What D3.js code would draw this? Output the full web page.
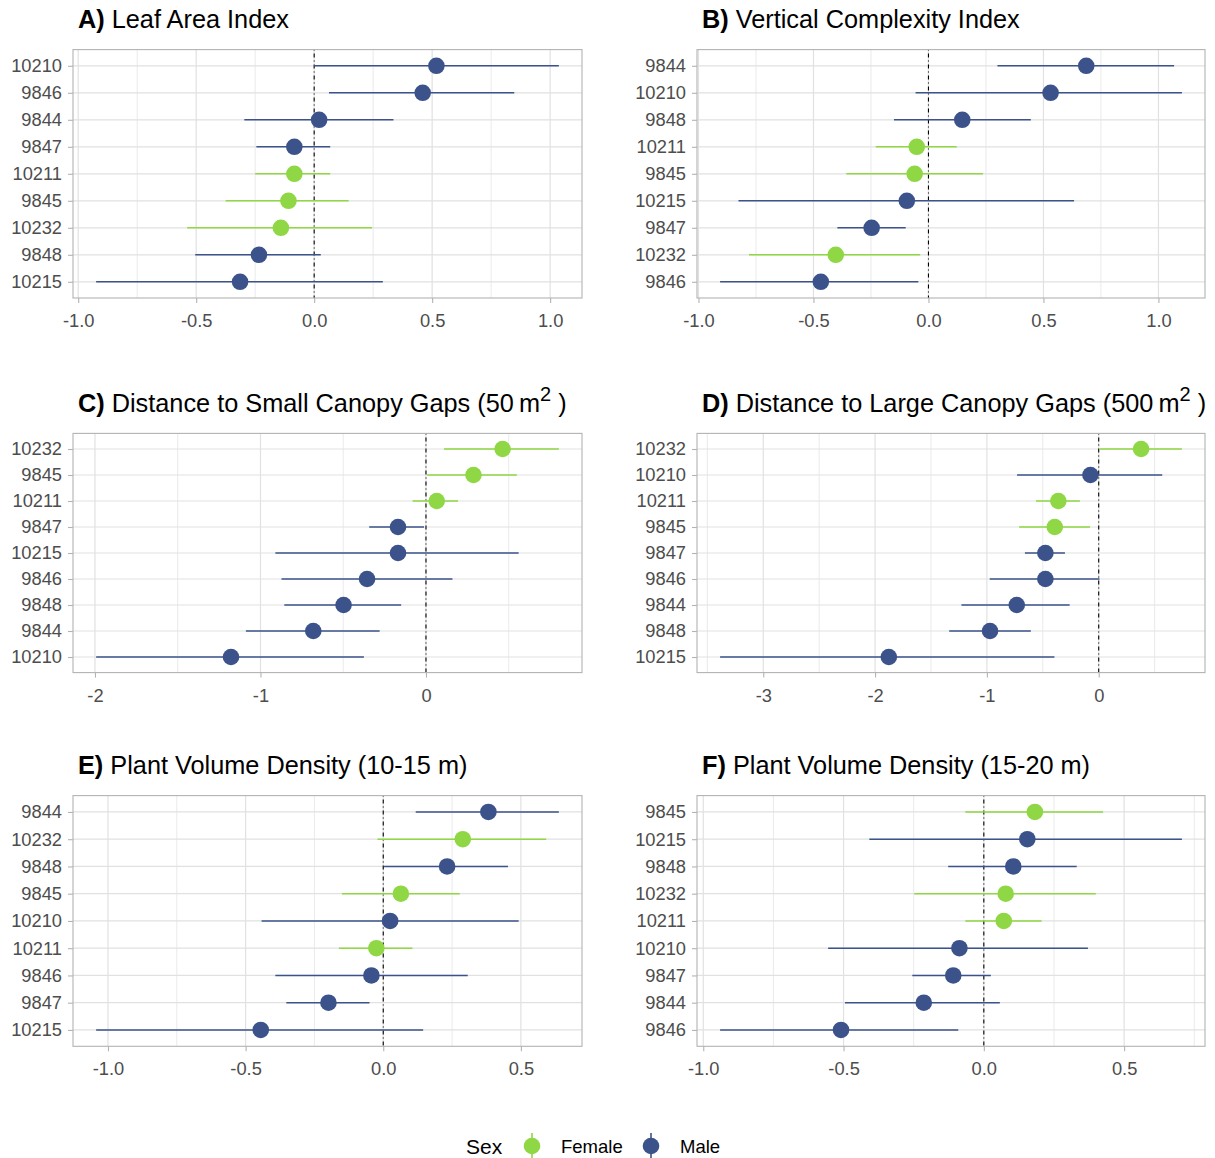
<!DOCTYPE html>
<html><head><meta charset="utf-8">
<script src="https://cdn.jsdelivr.net/npm/d3@7"></script>
<style>
body{margin:0;background:#fff}
svg{display:block}
text{font-family:"Liberation Sans",Arial,sans-serif}
</style>
</head><body>
<svg id="c" width="1215" height="1158"></svg>
<script>
// ---- data (top-to-bottom order as shown) ----
const femaleIDs = ["10211","9845","10232"];
const sexLabels = ["Female","Male"];

const A_cat = ["10210","9846","9844","9847","10211","9845","10232","9848","10215"];
const A_est = [0.518,0.46,0.021,-0.084,-0.084,-0.109,-0.141,-0.234,-0.314];
const A_lo  = [0.0,0.063,-0.296,-0.245,-0.25,-0.375,-0.538,-0.504,-0.924];
const A_hi  = [1.037,0.848,0.336,0.068,0.068,0.146,0.245,0.028,0.291];

const B_cat = ["9844","10210","9848","10211","9845","10215","9847","10232","9846"];
const B_est = [0.686,0.531,0.147,-0.051,-0.06,-0.094,-0.247,-0.403,-0.468];
const B_lo  = [0.30,-0.056,-0.15,-0.229,-0.357,-0.826,-0.396,-0.78,-0.906];
const B_hi  = [1.068,1.102,0.445,0.123,0.237,0.633,-0.099,-0.036,-0.044];

const C_cat = ["10232","9845","10211","9847","10215","9846","9848","9844","10210"];
const C_est = [0.463,0.287,0.065,-0.169,-0.169,-0.356,-0.498,-0.681,-1.178];
const C_lo  = [0.109,0.007,-0.081,-0.343,-0.91,-0.873,-0.856,-1.088,-1.993];
const C_hi  = [0.803,0.549,0.194,-0.012,0.56,0.16,-0.15,-0.28,-0.375];

const D_cat = ["10232","10210","10211","9845","9847","9846","9844","9848","10215"];
const D_est = [0.379,-0.074,-0.361,-0.393,-0.477,-0.477,-0.733,-0.972,-1.877];
const D_lo  = [0.007,-0.73,-0.561,-0.712,-0.66,-0.975,-1.228,-1.337,-3.386];
const D_hi  = [0.744,0.568,-0.168,-0.077,-0.302,0.007,-0.26,-0.607,-0.396];

const E_cat = ["9844","10232","9848","9845","10210","10211","9846","9847","10215"];
const E_est = [0.382,0.289,0.232,0.064,0.025,-0.025,-0.043,-0.199,-0.445];
const E_lo  = [0.118,-0.021,0.003,-0.15,-0.442,-0.161,-0.392,-0.352,-1.043];
const E_hi  = [0.638,0.592,0.453,0.278,0.492,0.106,0.307,-0.05,0.145];

const F_cat = ["9845","10215","9848","10232","10211","10210","9847","9844","9846"];
const F_est = [0.182,0.155,0.105,0.078,0.071,-0.087,-0.109,-0.214,-0.509];
const F_lo  = [-0.066,-0.408,-0.127,-0.248,-0.066,-0.555,-0.255,-0.495,-0.94];
const F_hi  = [0.425,0.706,0.331,0.399,0.206,0.371,0.025,0.057,-0.091];

const ticksAB = [-1,-0.5,0,0.5,1];
const ticksC  = [-2,-1,0];
const ticksD  = [-3,-2,-1,0];
const ticksEF = [-1,-0.5,0,0.5];

const panels = [
  {tag:"A)", title:[" Leaf Area Index"], cat:A_cat, est:A_est, lo:A_lo, hi:A_hi, ticks:ticksAB, dec:1, col:0, row:0},
  {tag:"B)", title:[" Vertical Complexity Index"], cat:B_cat, est:B_est, lo:B_lo, hi:B_hi, ticks:ticksAB, dec:1, col:1, row:0},
  {tag:"C)", title:[" Distance to Small Canopy Gaps (50\u2009m", "2", " )"], cat:C_cat, est:C_est, lo:C_lo, hi:C_hi, ticks:ticksC, dec:0, col:0, row:1},
  {tag:"D)", title:[" Distance to Large Canopy Gaps (500\u2009m", "2", " )"], cat:D_cat, est:D_est, lo:D_lo, hi:D_hi, ticks:ticksD, dec:0, col:1, row:1},
  {tag:"E)", title:[" Plant Volume Density (10-15 m)"], cat:E_cat, est:E_est, lo:E_lo, hi:E_hi, ticks:ticksEF, dec:1, col:0, row:2},
  {tag:"F)", title:[" Plant Volume Density (15-20 m)"], cat:F_cat, est:F_est, lo:F_lo, hi:F_hi, ticks:ticksEF, dec:1, col:1, row:2}
];

// ---- styling / layout ----
const colorScale = d3.scaleOrdinal().domain(sexLabels).range(["#8FD744","#3B528B"]);
const colX = [[73,582],[697,1205]];
const rowY = [[49.6,298],[433.4,672.6],[795.6,1046.3]];
const gridCol = "#e1e1e1", borderCol = "#b3b3b3", textCol = "#4d4d4d";

const svg = d3.select("#c");
svg.append("rect").attr("width",1215).attr("height",1158).attr("fill","#fff");

panels.forEach(p => {
  const [x0,x1] = colX[p.col], [y0,y1] = rowY[p.row];
  const ext = d3.extent(p.lo.concat(p.hi));
  const pad = (ext[1]-ext[0])*0.05;
  const x = d3.scaleLinear().domain([ext[0]-pad, ext[1]+pad]).range([x0,x1]);
  const y = d3.scalePoint().domain(p.cat).range([y0,y1]).padding(0.6);
  const fmt = v => d3.format("." + p.dec + "f")(v).replace("\u2212","-");
  const g = svg.append("g");
  const dom = x.domain();

  // minor grid
  const step = p.ticks[1]-p.ticks[0];
  const minor = d3.range(p.ticks[0]-step/2, p.ticks[p.ticks.length-1]+step, step)
    .filter(v => v>dom[0] && v<dom[1]);
  g.selectAll(".mn").data(minor).join("line")
    .attr("x1",d=>x(d)).attr("x2",d=>x(d)).attr("y1",y0).attr("y2",y1)
    .attr("stroke",gridCol).attr("stroke-width",0.7);
  // major grid
  g.selectAll(".mj").data(p.ticks).join("line")
    .attr("x1",d=>x(d)).attr("x2",d=>x(d)).attr("y1",y0).attr("y2",y1)
    .attr("stroke",gridCol).attr("stroke-width",1.2);
  g.selectAll(".hz").data(p.cat).join("line")
    .attr("x1",x0).attr("x2",x1).attr("y1",d=>y(d)).attr("y2",d=>y(d))
    .attr("stroke",gridCol).attr("stroke-width",1.2);

  // zero reference line
  g.append("line").attr("x1",x(0)).attr("x2",x(0)).attr("y1",y0).attr("y2",y1)
    .attr("stroke","#000").attr("stroke-width",1.1).attr("stroke-dasharray","1,3,4,3");

  const rows = p.cat.map((c,i)=>({c, est:p.est[i], lo:p.lo[i], hi:p.hi[i],
    sex: femaleIDs.includes(c) ? "Female" : "Male"}));
  g.selectAll(".ci").data(rows).join("line")
    .attr("x1",d=>x(d.lo)).attr("x2",d=>x(d.hi)).attr("y1",d=>y(d.c)).attr("y2",d=>y(d.c))
    .attr("stroke",d=>colorScale(d.sex)).attr("stroke-width",1.6);
  g.selectAll(".pt").data(rows).join("circle")
    .attr("cx",d=>x(d.est)).attr("cy",d=>y(d.c)).attr("r",8.3)
    .attr("fill",d=>colorScale(d.sex));

  // border
  g.append("rect").attr("x",x0).attr("y",y0).attr("width",x1-x0).attr("height",y1-y0)
    .attr("fill","none").attr("stroke",borderCol).attr("stroke-width",1.1);

  // axes
  const ax = g.append("g").attr("transform",`translate(0,${y1})`)
    .call(d3.axisBottom(x).tickValues(p.ticks).tickFormat(fmt).tickSize(5).tickPadding(11));
  const ay = g.append("g").attr("transform",`translate(${x0},0)`)
    .call(d3.axisLeft(y).tickSize(5).tickPadding(6));
  [ax,ay].forEach(a => {
    a.select(".domain").remove();
    a.selectAll(".tick line").attr("stroke",borderCol).attr("stroke-width",1.1);
    a.selectAll(".tick text").attr("fill",textCol).attr("font-size",18.3)
      .attr("font-family","'Liberation Sans',Arial,sans-serif");
  });

  // title
  const t = g.append("text").attr("x",x0+5).attr("y",y0-21.5).attr("font-size",25.3).attr("fill","#000");
  t.append("tspan").attr("font-weight","bold").text(p.tag);
  if (p.title.length === 1) {
    t.append("tspan").text(p.title[0]);
  } else {
    t.append("tspan").text(p.title[0]);
    t.append("tspan").attr("font-size",20).attr("dy",-11).text(p.title[1]);
    t.append("tspan").attr("dy",11).text(p.title[2]);
  }
});

// ---- legend ----
const lg = svg.append("g");
lg.append("text").attr("x",466).attr("y",1154).attr("font-size",21).attr("fill","#000").text("Sex");
const keyX = [532, 651];
sexLabels.forEach((s,i) => {
  lg.append("line").attr("x1",keyX[i]).attr("x2",keyX[i]).attr("y1",1133).attr("y2",1159)
    .attr("stroke",colorScale(s)).attr("stroke-width",1.6);
  lg.append("circle").attr("cx",keyX[i]).attr("cy",1146).attr("r",8.3).attr("fill",colorScale(s));
  lg.append("text").attr("x",keyX[i]+29).attr("y",1153).attr("font-size",18.5).attr("fill","#000").text(s);
});
</script>
</body></html>
